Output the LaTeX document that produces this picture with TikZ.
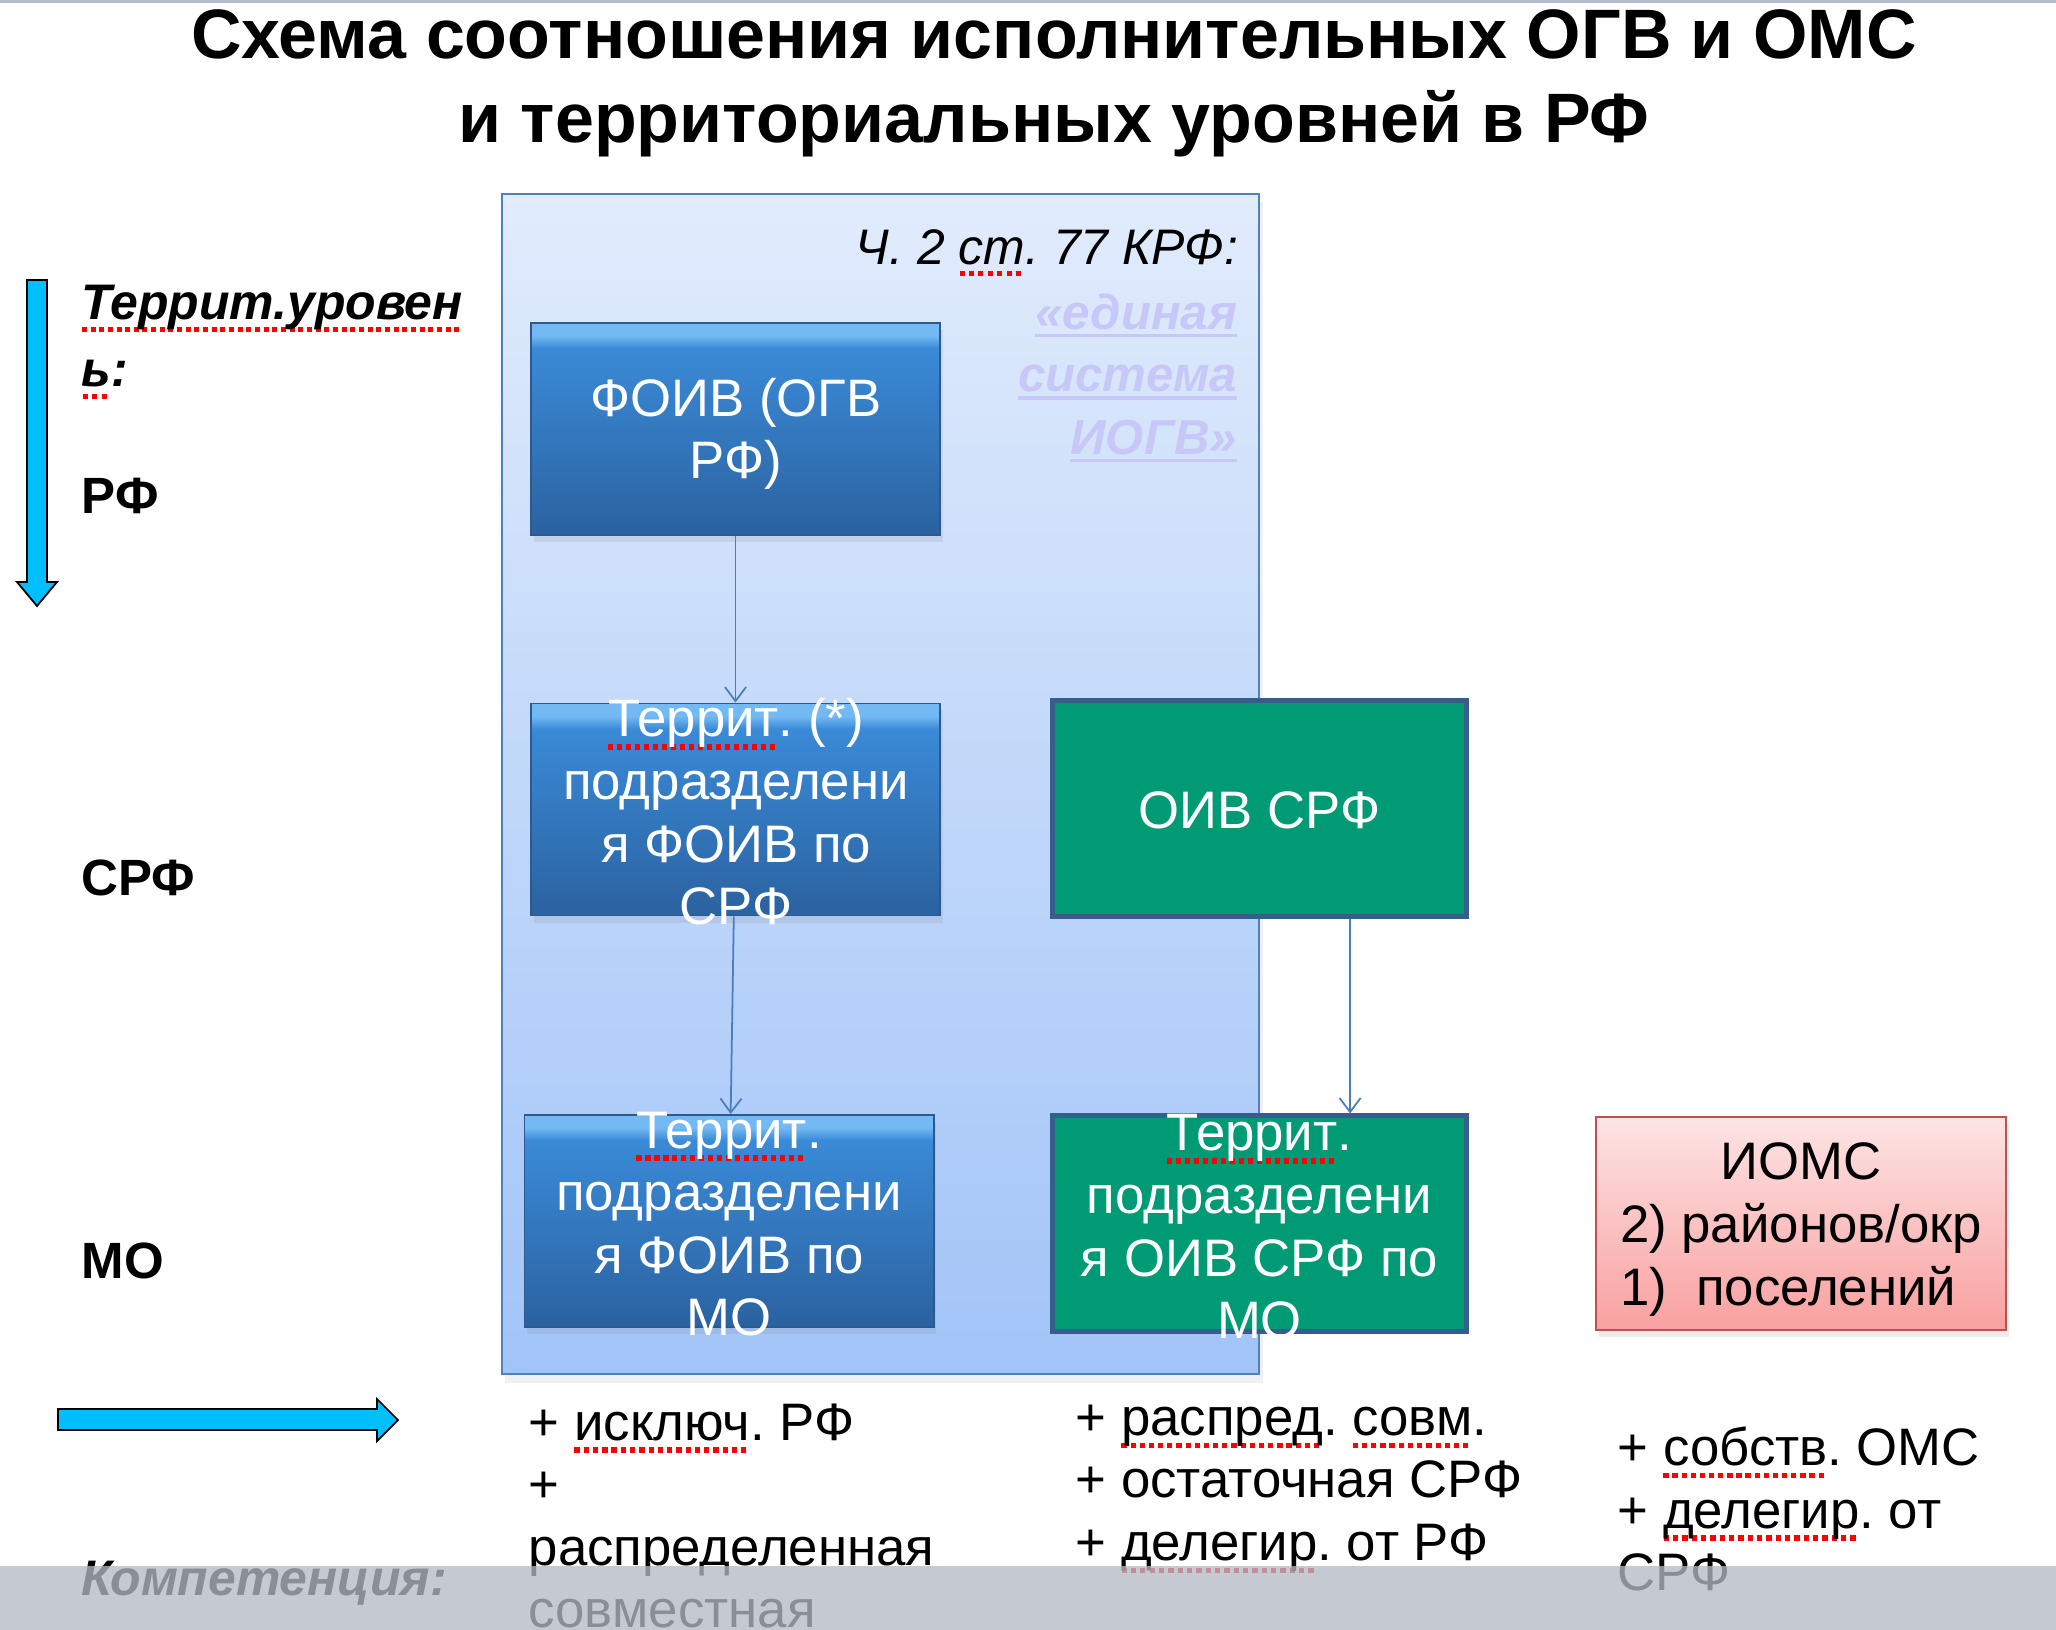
\documentclass[tikz,border=0pt]{standalone}
\usepackage{fontspec}
\setmainfont{Liberation Sans}
\usetikzlibrary{shadows,arrows.meta}
\frenchspacing
\definecolor{panelt}{HTML}{E1ECFC}
\definecolor{panelb}{HTML}{A2C4F8}
\definecolor{panelline}{HTML}{4F81BD}
\definecolor{foivtop}{HTML}{3A8AD7}
\definecolor{foivbot}{HTML}{2B62A0}
\definecolor{foivlight}{HTML}{73B9F3}
\definecolor{foivline}{HTML}{2C5A8E}
\definecolor{oivfill}{HTML}{009A75}
\definecolor{oivline}{HTML}{375D8A}
\definecolor{omst}{HTML}{FDE4E4}
\definecolor{omsb}{HTML}{F8A0A0}
\definecolor{omsline}{HTML}{C0504D}
\definecolor{connline}{HTML}{4A7EBB}
\definecolor{arrowfill}{HTML}{00BFFF}
\definecolor{quotecol}{HTML}{C8C8F8}
\definecolor{barcol}{HTML}{B4BAC4}
\definecolor{topline}{HTML}{B4BCC8}
\newsavebox\spellbox
\newcommand\spell[1]{\sbox\spellbox{#1}\leavevmode\rlap{\textcolor{red}{\raisebox{-0.45ex}{\hbox to \wd\spellbox{\xleaders\hbox{\rule{0.1em}{0.1em}\kern0.07em}\hfill}}}}\usebox\spellbox}
\newcommand\qline[1]{\sbox\spellbox{#1}\leavevmode\rlap{\rule[-0.3ex]{\wd\spellbox}{0.07em}}\usebox\spellbox}
\pgfdeclareverticalshading{foivshade}{100bp}{color(0bp)=(foivbot); color(25bp)=(foivbot); color(69bp)=(foivtop); color(72bp)=(foivlight); color(75bp)=(foivlight); color(100bp)=(foivlight)}
\tikzset{
  panelbox/.style={top color=panelt, bottom color=panelb, draw=panelline, line width=0.6pt,
    minimum width=7.57cm, minimum height=11.8cm, inner sep=0pt,
    drop shadow={opacity=0.12, shadow xshift=1pt, shadow yshift=-2.5pt}},
  foivbox/.style={shade, shading=foivshade, draw=foivline, line width=0.5pt, inner sep=0pt,
    minimum width=4.09cm, minimum height=2.12cm,
    drop shadow={opacity=0.15, shadow xshift=0.8pt, shadow yshift=-2pt}},
  oivbox/.style={fill=oivfill, draw=oivline, line width=1.4pt, inner sep=0pt,
    minimum width=4.13cm, minimum height=2.15cm},
  omsbox/.style={top color=omst, bottom color=omsb, draw=omsline, line width=0.6pt, inner sep=0pt,
    minimum width=4.10cm, minimum height=2.13cm,
    drop shadow={opacity=0.15, shadow xshift=0.8pt, shadow yshift=-2pt}},
  boxtext/.style={text=white, align=center, inner sep=0pt, font=\fontsize{15}{17.8}\selectfont},
  plain/.style={inner sep=0pt, font=\fontsize{15}{17.8}\selectfont},
  level/.style={inner sep=0pt, font=\fontsize{14.2}{19}\selectfont\bfseries\itshape},
  levelname/.style={inner sep=0pt, font=\fontsize{14.5}{19}\selectfont\bfseries},
  conn/.style={draw=connline, line width=0.5pt, -{Straight Barb[length=4pt,width=6pt]}},
  bigarrow/.style={fill=arrowfill, draw=black, line width=0.5pt}
}
\begin{document}
\begin{tikzpicture}[x=0.01cm, y=-0.01cm]
\useasboundingbox (0,0) rectangle (2056,1630);
\fill[topline] (0,0) rectangle (2056,3);

\node[inner sep=0pt, align=center, font=\fontsize{19.9}{23.9}\selectfont\bfseries] (title) at (1054,83)
  {Схема соотношения исполнительных ОГВ и ОМС\\и территориальных уровней в РФ};

\draw[bigarrow] (27,280) -- (47,280) -- (47,582) -- (57,582) -- (37,606) -- (17,582) -- (27,582) -- cycle;
\node[level, anchor=west, align=left] (lvl) at (81,342) {\spell{Террит.уровен}\\\spell{ь}:};
\node[levelname, anchor=base west] (lvlrf) at (81,513) {РФ};
\node[levelname, anchor=base west] (lvlsrf) at (81,895) {СРФ};
\node[levelname, anchor=base west] (lvlmo) at (81,1278) {МО};

\node[panelbox] (panel) at (880.5,784) {};
\node[plain, anchor=base east, font=\fontsize{14.2}{17.8}\selectfont\itshape] (quote) at (1239,264) {Ч. 2 \spell{ст}. 77 КРФ:};
\node[plain, anchor=east, align=right, text=quotecol, font=\fontsize{14}{17.8}\selectfont\bfseries\itshape] (quotesys) at (1238,378)
  {\qline{«единая}\\\qline{система}\\\qline{ИОГВ»}};

\node[foivbox] (foiv) at (735.5,429) {};
\node[foivbox] (terrfs) at (735.5,809.5) {};
\node[foivbox] (terrfm) at (729,1221) {};
\node[oivbox] (oiv) at (1259.5,808.5) {};
\node[oivbox] (terrom) at (1259.5,1223.5) {};
\node[omsbox] (ioms) at (1801,1223.5) {};

\draw[conn] (foiv) -- (terrfs);
\draw[conn] (terrfs) -- (terrfm);
\draw[conn] ([xshift=0.905cm]oiv.south) -- ([xshift=0.905cm]terrom.north);

\node[boxtext] (foivt) at (736,434) {ФОИВ (ОГВ\\РФ)};
\node[boxtext] (terrfst) at (736,812) {\spell{Террит}. (*)\\подразделени\\я ФОИВ по\\СРФ};
\node[boxtext] (terrfmt) at (729,1224) {\spell{Террит}.\\подразделени\\я ФОИВ по\\МО};
\node[boxtext] (oivt) at (1259.5,810) {ОИВ СРФ};
\node[boxtext] (terromt) at (1259.5,1227) {\spell{Террит}.\\подразделени\\я ОИВ СРФ по\\МО};
\node[plain] (iomst) at (1801,1230)
  {\begin{tabular}{@{}l@{}}\multicolumn{1}{@{}c@{}}{ИОМС}\\2) районов/окр\\1)\ \ поселений\end{tabular}};

\draw[bigarrow] (58,1409) -- (377,1409) -- (377,1399) -- (398,1420) -- (377,1441) -- (377,1430) -- (58,1430) -- cycle;
\node[level, anchor=base west] (compt) at (81,1595) {Компетенция:};
\node[plain, anchor=west, align=left] (comprf) at (528,1516) {+ \spell{исключ}. РФ\\+\\распределенная\\совместная};
\node[plain, anchor=west, align=left] (compsrf) at (1075,1489) {+ \spell{распред}. \spell{совм}.\\+ остаточная СРФ\\+ \spell{делегир}. от РФ};
\node[plain, anchor=west, align=left] (compmo) at (1617,1509) {+ \spell{собств}. ОМС\\+ \spell{делегир}. от\\СРФ};

\fill[barcol, opacity=0.77] (0,1566) rectangle (2056,1630);
\end{tikzpicture}
\end{document}
